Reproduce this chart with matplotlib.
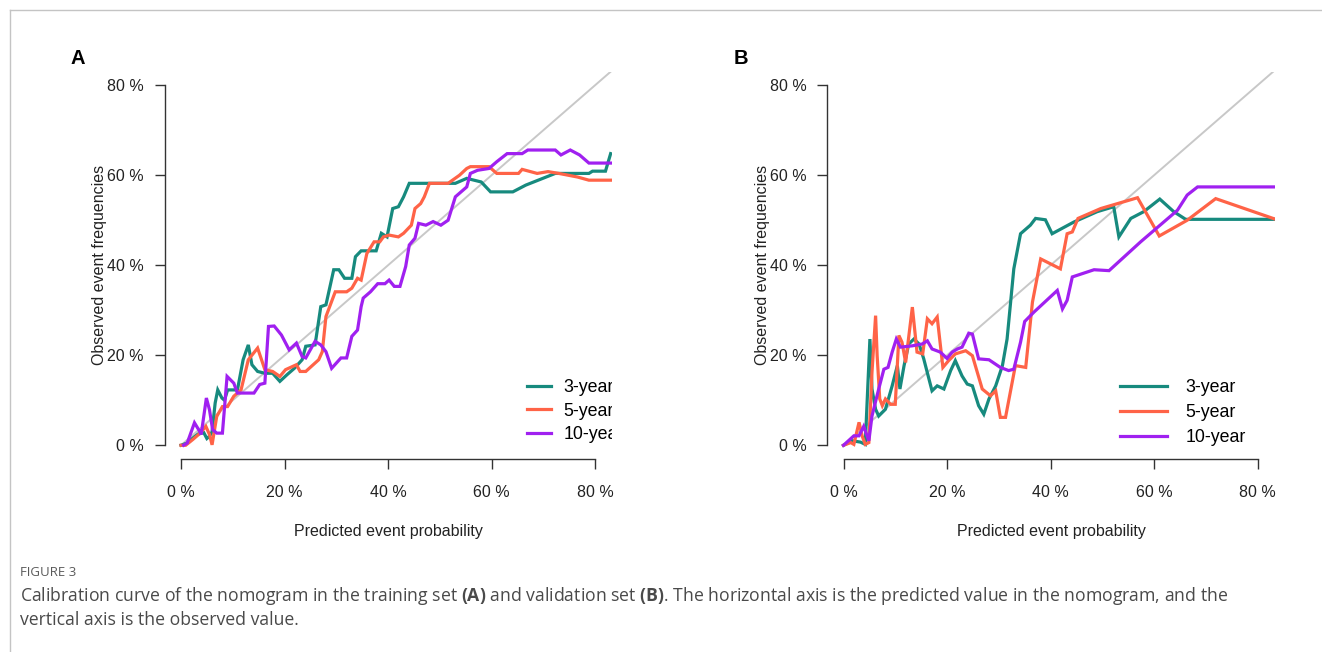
import numpy as np
import matplotlib
matplotlib.use("Agg")
import matplotlib.pyplot as plt
from matplotlib.lines import Line2D

plt.rcParams['font.family'] = ['Liberation Sans', 'DejaVu Sans']
plt.rcParams['mathtext.fontset'] = 'custom'
plt.rcParams['mathtext.rm'] = 'Open Sans'
plt.rcParams['mathtext.bf'] = 'Open Sans:bold'

# Datos (en %)
# Panel A - conjunto de entrenamiento
a3_x = [0, 1.2, 2.5, 3.3, 4.4, 5.0, 5.5, 6.0, 6.6, 7.1, 7.9, 8.4, 9.0, 9.8, 10.9, 12.0, 13.0, 13.7,
        14.8, 16.2, 17.7, 19.1, 20.5, 21.9, 23.4, 24.1, 25.9, 27.0, 28.0, 29.5, 30.5, 31.6, 33.0,
        33.7, 34.8, 37.7, 38.7, 39.8, 40.9, 42.0, 43.0, 44.1, 50.9, 53.0, 55.2, 58.0, 59.8, 64.1,
        66.6, 72.3, 78.8, 79.5, 82.0, 83.0]
a3_y = [0, 0.5, 1.8, 2.5, 2.8, 1.5, 2.0, 3.0, 9.4, 12.3, 10.5, 10.0, 12.3, 12.3, 12.3, 19.0, 22.3, 17.9,
        16.4, 16.0, 16.0, 14.2, 15.7, 17.1, 19.0, 22.0, 22.3, 30.8, 31.2, 39.0, 39.0, 37.1, 37.1,
        41.9, 43.2, 43.2, 47.1, 46.3, 52.6, 53.0, 55.2, 58.2, 58.2, 58.2, 59.3, 58.5, 56.3, 56.3,
        57.8, 60.4, 60.4, 60.9, 60.9, 64.8]

a5_x = [0, 0.9, 2.3, 3.7, 4.8, 5.5, 6.0, 6.9, 8.0, 9.0, 10.2, 11.6, 13.0, 14.8, 16.2, 17.7, 19.1,
        20.2, 22.3, 23.0, 24.1, 26.6, 27.3, 28.0, 29.8, 32.0, 33.0, 34.1, 34.8, 35.9, 37.3, 38.4,
        39.1, 40.2, 42.0, 43.0, 44.5, 45.2, 46.3, 47.0, 48.0, 51.6, 53.8, 55.2, 55.9, 59.5, 61.0,
        65.2, 65.9, 68.8, 70.9, 73.0, 76.6, 78.8, 83.0]
a5_y = [0, 0, 1.3, 2.7, 4.2, 2.4, 0.1, 6.4, 8.6, 8.6, 10.9, 12.3, 19.0, 21.6, 16.8, 16.4, 15.3,
        16.8, 17.9, 16.4, 16.4, 19.0, 20.8, 28.6, 34.1, 34.1, 34.9, 37.1, 36.7, 42.6, 45.2, 45.2,
        46.3, 46.7, 46.3, 47.1, 48.9, 52.6, 53.7, 55.2, 58.2, 58.2, 60.0, 61.5, 61.9, 61.9, 60.4,
        60.4, 61.3, 60.4, 60.8, 60.4, 59.6, 58.9, 58.9]

a10_x = [0.5, 1.2, 2.6, 3.6, 3.9, 4.9, 5.5, 6.1, 6.9, 8.0, 8.9, 10.2, 10.9, 12.0, 14.1, 15.2, 16.2,
         16.9, 18.0, 19.4, 20.9, 22.3, 23.4, 24.1, 25.9, 27.0, 28.0, 29.1, 30.9, 32.0, 33.0, 34.1,
         34.8, 35.2, 36.6, 38.0, 39.4, 40.2, 41.2, 42.3, 43.4, 44.1, 45.2, 45.9, 47.3, 48.7, 50.2,
         51.6, 53.0, 54.1, 55.2, 55.9, 57.3, 59.5, 61.0, 63.0, 65.9, 67.0, 72.3, 73.4, 75.2, 77.0,
         78.8, 83.0]
a10_y = [0, 0.5, 5.0, 3.1, 2.4, 10.5, 7.9, 3.5, 2.7, 2.7, 15.3, 13.8, 11.6, 11.6, 11.6, 13.5, 13.8,
         26.4, 26.5, 24.5, 21.2, 22.7, 19.7, 19.4, 23.1, 22.3, 20.8, 17.1, 19.4, 19.4, 24.2, 25.6,
         30.8, 32.7, 34.1, 35.9, 35.9, 36.7, 35.3, 35.3, 39.7, 44.5, 46.0, 49.3, 48.9, 49.7, 48.9,
         50.0, 55.2, 56.3, 57.4, 60.4, 61.1, 61.5, 63.0, 64.8, 64.8, 65.6, 65.6, 64.5, 65.6, 64.5,
         62.7, 62.7]

# Panel B - conjunto de validacion
b3_x = [0, 1.7, 3.3, 4.2, 5.1, 5.5, 6.2, 6.8, 8.1, 9.4, 10.4, 10.9, 11.7, 12.6, 13.6, 14.6, 15.5,
        17.1, 18.1, 19.4, 20.7, 21.6, 22.9, 23.9, 24.9, 26.1, 27.1, 28.1, 29.4, 30.7, 31.6, 32.9,
        34.2, 36.1, 37.1, 39.0, 40.3, 44.5, 49.0, 52.2, 53.2, 55.5, 58.0, 61.1, 63.8, 66.1, 83.5]
b3_y = [0, 1.0, 0.7, 0.2, 23.6, 12.5, 8.0, 6.5, 8.0, 13.2, 17.7, 12.5, 17.7, 22.5, 23.6, 22.5, 19.2,
        12.1, 13.2, 12.5, 16.6, 18.8, 15.4, 13.6, 13.2, 8.8, 6.9, 10.3, 13.2, 17.7, 23.6, 39.2,
        47.0, 48.9, 50.4, 50.1, 47.0, 49.6, 51.9, 53.0, 46.3, 50.4, 51.9, 54.7, 51.9, 50.2, 50.2]

b5_x = [0, 1.4, 2.0, 3.0, 3.6, 4.2, 4.9, 5.5, 6.2, 6.5, 7.0, 7.5, 8.1, 9.1, 10.0, 10.7, 11.3, 12.0,
        13.3, 14.2, 15.3, 16.2, 17.1, 18.1, 19.2, 20.3, 21.6, 23.6, 24.9, 26.8, 28.4, 29.4, 30.3,
        31.3, 33.2, 35.2, 36.5, 38.1, 41.9, 43.2, 44.2, 45.3, 49.7, 56.8, 61.0, 66.4, 71.9, 83.5]
b5_y = [0, 0.6, 0.2, 5.1, 2.1, 0.2, 0.6, 16.2, 28.8, 19.9, 10.3, 8.8, 10.3, 9.1, 9.1, 24.4, 22.9,
        18.4, 30.7, 20.7, 20.3, 28.1, 27.0, 28.5, 17.3, 18.8, 20.3, 21.0, 19.9, 12.5, 11.0, 12.1,
        6.2, 6.2, 17.7, 17.3, 31.8, 41.4, 39.2, 47.0, 47.4, 50.4, 52.6, 55.0, 46.5, 50.0, 54.8, 50.2]

b10_x = [0, 2.0, 3.0, 3.9, 4.9, 5.5, 6.8, 7.8, 8.6, 9.4, 10.2, 11.0, 13.3, 15.2, 16.2, 17.1, 18.7,
         20.0, 21.0, 22.0, 22.9, 24.2, 24.9, 26.1, 28.1, 30.3, 31.9, 32.9, 34.2, 35.0, 36.8, 41.3,
         42.3, 43.2, 44.2, 48.4, 51.3, 57.4, 64.5, 66.4, 68.4, 83.5]
b10_y = [0, 2.1, 2.1, 4.2, 1.0, 6.5, 12.5, 16.9, 17.3, 20.7, 23.6, 21.8, 22.1, 22.5, 23.2, 21.4, 20.7,
         19.3, 20.7, 21.4, 21.8, 24.9, 24.7, 19.2, 19.0, 17.3, 16.6, 16.9, 22.9, 27.5, 29.6, 34.4,
         30.3, 32.2, 37.4, 39.0, 38.8, 45.2, 52.2, 55.6, 57.4, 57.4]

labels = ['3-year', '5-year', '10-year']
colores = ['#178A7E', '#FF6347', '#A020F0']
ticks = [0, 20, 40, 60, 80]
tick_labels = ['0 %', '20 %', '40 %', '60 %', '80 %']

W, H = 1322, 652
fig = plt.figure(figsize=(W / 100, H / 100), dpi=100)

# marco gris de la pagina
fig.add_artist(Line2D([10 / W, 1], [1 - 10 / H, 1 - 10 / H], color='#c4c4c4', lw=1))
fig.add_artist(Line2D([10 / W, 10 / W], [0, 1 - 10 / H], color='#c4c4c4', lw=1))


def panel(left, letra, series, leg_x, leg_y, hlen, hpad, lsp, recortar):
    # posicion en pixeles -> fraccion de la figura
    ax = fig.add_axes([left / W, (H - 459) / H, 447.5 / W, 387.3 / H])
    ax.set_xlim(-0.0315, 0.833)
    ax.set_ylim(-0.0305, 0.83)
    ax.plot([0, 1], [0, 1], color='#c8c8c8', lw=1.4, zorder=1)
    for (xs, ys), c, lab in zip(series, colores, labels):
        ax.plot(np.array(xs) / 100, np.array(ys) / 100, color=c, lw=2.3, label=lab,
                solid_joinstyle='miter', zorder=2)
    for s in ['top', 'right']:
        ax.spines[s].set_visible(False)
    for s in ['left', 'bottom']:
        ax.spines[s].set_bounds(0, 0.8)
        ax.spines[s].set_color('#333333')
        ax.spines[s].set_linewidth(1.0)
    t = np.array(ticks) / 100
    ax.set_xticks(t)
    ax.set_yticks(t)
    ax.set_xticklabels(tick_labels)
    ax.set_yticklabels(tick_labels)
    ax.tick_params(axis='both', length=7, width=1.0, color='#333333', labelsize=11.5,
                   labelcolor='#222222')
    ax.tick_params(axis='x', pad=12)
    ax.tick_params(axis='y', pad=8)
    ax.set_xlabel('Predicted event probability', fontsize=11.5, labelpad=17, color='#222222')
    ax.set_ylabel('Observed event frequencies', fontsize=11.5, labelpad=0, color='#222222')
    leg = ax.legend(loc='upper left', bbox_to_anchor=(leg_x, leg_y), frameon=False,
                    fontsize=12.8, handlelength=hlen, handletextpad=hpad, labelspacing=lsp,
                    borderpad=0, borderaxespad=0)
    if recortar:
        for tx in leg.get_texts():
            tx.set_clip_box(ax.bbox)
            tx.set_clip_on(True)
    fig.text((left - 94) / W, 1 - 58 / H, letra, fontsize=14.5, fontweight='bold',
             va='center', ha='left')
    return ax


panel(164.7, 'A', [(a3_x, a3_y), (a5_x, a5_y), (a10_x, a10_y)], 0.81, 0.207, 1.35, 0.7, 0.38, True)
panel(827.2, 'B', [(b3_x, b3_y), (b5_x, b5_y), (b10_x, b10_y)], 0.655, 0.207, 2.6, 1.05, 0.45, False)

# pie de figura
fig.text(20 / W, 1 - 573 / H, 'FIGURE 3', fontsize=9.5, color='#5a5a5a', family='Open Sans',
         va='center', ha='left')
fig.text(20 / W, 1 - 596 / H,
         r'Calibration curve of the nomogram in the training set $\mathbf{(A)}$ and validation set '
         r'$\mathbf{(B)}$. The horizontal axis is the predicted value in the nomogram, and the',
         fontsize=12.7, color='#4a4a4a', family='Open Sans', va='center', ha='left')
fig.text(20 / W, 1 - 620 / H, 'vertical axis is the observed value.',
         fontsize=12.7, color='#4a4a4a', family='Open Sans', va='center', ha='left')

fig.savefig('out.png', dpi=100)
